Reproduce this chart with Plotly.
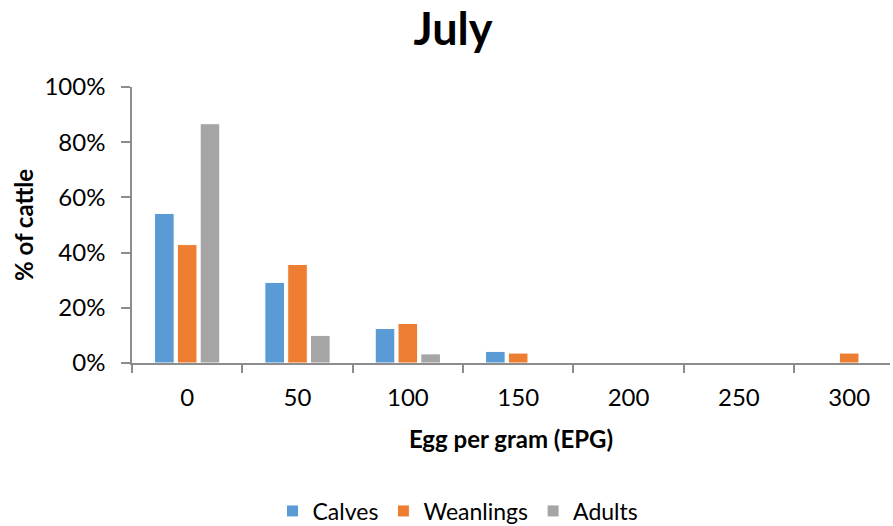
import plotly.graph_objects as go

# Egg-per-gram classes and share of cattle in each class
epg_classes = ["0", "50", "100", "150", "200", "250", "300"]
calves = [54.2, 29.2, 12.5, 4.2, 0, 0, 0]
weanlings = [42.9, 35.7, 14.3, 3.6, 0, 0, 3.6]
adults = [86.7, 10.0, 3.3, 0, 0, 0, 0]

series = [
    ("Calves", calves, "#5B9BD5"),
    ("Weanlings", weanlings, "#ED7D31"),
    ("Adults", adults, "#A5A5A5"),
]

FONT = "Lato, 'Open Sans', sans-serif"
AXIS_COLOR = "#8C8C8C"

fig = go.Figure()
for name, vals, color in series:
    fig.add_trace(go.Bar(
        x=epg_classes,
        y=vals,
        name=name,
        marker=dict(color=color, line=dict(color="white", width=1)),
        hovertemplate="%{x}: %{y:.1f}%<extra>" + name + "</extra>",
    ))

fig.update_layout(
    width=893,
    height=526,
    autosize=False,
    paper_bgcolor="white",
    plot_bgcolor="white",
    barmode="group",
    bargap=0.38,
    bargroupgap=0.14,
    margin=dict(l=132, r=3, t=87, b=163, autoexpand=False),
    font=dict(family=FONT, size=24, color="#000000"),
    title=dict(
        text="<b>July</b>",
        x=453 / 893,
        xref="container",
        xanchor="center",
        y=1 - 29 / 526,
        yref="container",
        yanchor="middle",
        font=dict(family=FONT, size=45, color="#000000"),
    ),
    xaxis=dict(
        type="category",
        range=[-0.5, 6.37],
        automargin=False,
        showline=True,
        linecolor=AXIS_COLOR,
        linewidth=1.5,
        ticks="outside",
        tickson="boundaries",
        ticklen=8,
        tickcolor=AXIS_COLOR,
        tickwidth=1.5,
        ticklabelstandoff=12,
        tickfont=dict(family=FONT, size=24),
        showgrid=False,
        zeroline=False,
        title=dict(
            text="<b>Egg per gram (EPG)</b>",
            font=dict(family=FONT, size=24),
            standoff=22,
        ),
    ),
    yaxis=dict(
        range=[0, 100],
        automargin=False,
        tickvals=[0, 20, 40, 60, 80, 100],
        ticktext=["0%", "20%", "40%", "60%", "80%", "100%"],
        showline=True,
        linecolor=AXIS_COLOR,
        linewidth=1.5,
        ticks="outside",
        ticklen=9,
        tickcolor=AXIS_COLOR,
        tickwidth=1.5,
        ticklabelstandoff=11,
        tickfont=dict(family=FONT, size=24),
        showgrid=False,
        zeroline=False,
        title=dict(
            text="<b>% of cattle</b>",
            font=dict(family=FONT, size=24),
            standoff=4,
        ),
    ),
    legend=dict(
        orientation="h",
        x=458 / 893,
        xref="container",
        xanchor="center",
        y=(526 - 511) / 526,
        yref="container",
        yanchor="middle",
        font=dict(family=FONT, size=23),
        itemwidth=30,
        traceorder="normal",
    ),
)

fig.write_html("out.html")
